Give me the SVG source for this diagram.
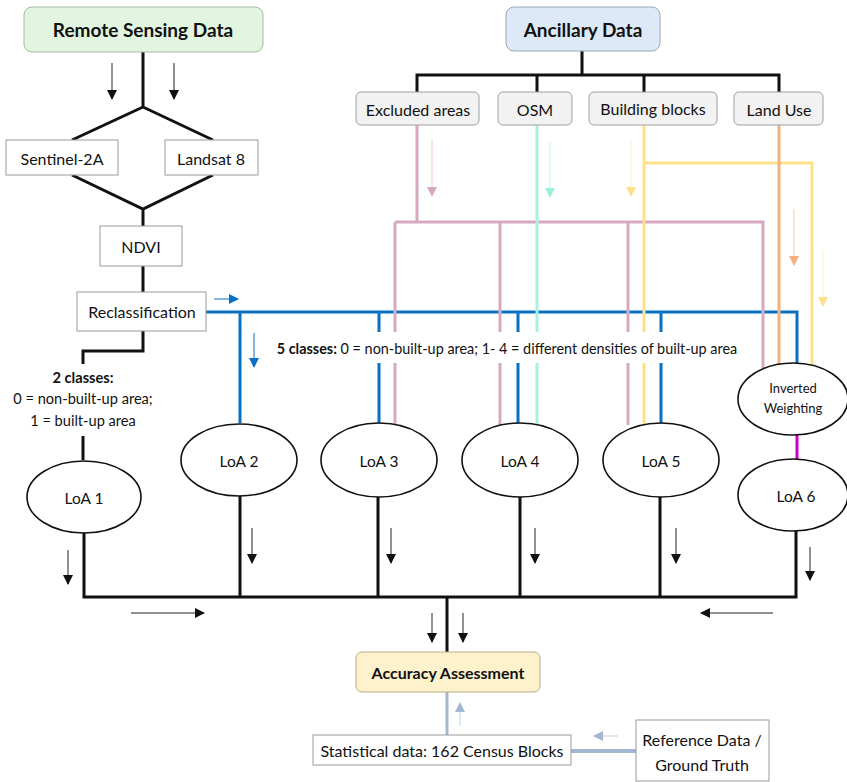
<svg xmlns="http://www.w3.org/2000/svg" width="847" height="782" viewBox="0 0 847 782">
<style>
text{font-family:Lato,"Liberation Sans",sans-serif;fill:#111;text-anchor:middle;dominant-baseline:central}
.hd{font-size:19px;font-weight:bold}
.n{font-size:16px}
.l{font-size:15.5px}
.s{font-size:14.6px}
.box{fill:#fff;stroke:#9a9a9a;stroke-width:1}
.gbox{fill:#f2f2f2;stroke:#a0a0a0;stroke-width:1}
.el{fill:#fff;stroke:#111;stroke-width:1.6}
.k{stroke:#111;stroke-width:3;fill:none}
.b{stroke:#0a70c2;stroke-width:3;fill:none}
.p{stroke:#d6a9c0;stroke-width:3;fill:none}
.c{stroke:#aaf0e2;stroke-width:3;fill:none}
.y{stroke:#ffe08a;stroke-width:3;fill:none}
.o{stroke:#f5b07f;stroke-width:3;fill:none}
.m{stroke:#c800c8;stroke-width:3;fill:none}
.lb{stroke:#a3b7d3;stroke-width:3;fill:none}
.ak{stroke:#222;stroke-width:1;marker-end:url(#hk)}
.ab{stroke:#0a70c2;stroke-width:1;marker-end:url(#hb)}
.ap{stroke:#ecc6d6;stroke-width:1;marker-end:url(#hp)}
.ac{stroke:#c3f4ea;stroke-width:1;marker-end:url(#hc)}
.ay{stroke:#fff0c0;stroke-width:1;marker-end:url(#hy)}
.ao{stroke:#f8c9a6;stroke-width:1;marker-end:url(#ho)}
.al{stroke:#c3d1e3;stroke-width:1;marker-end:url(#hl)}
</style>
<defs>
<marker id="hk" markerUnits="userSpaceOnUse" markerWidth="10" markerHeight="10" refX="9" refY="5" orient="auto"><path d="M0,0 L10,5 L0,10 Z" fill="#111"/></marker>
<marker id="hb" markerUnits="userSpaceOnUse" markerWidth="10" markerHeight="10" refX="9" refY="5" orient="auto"><path d="M0,0 L10,5 L0,10 Z" fill="#0a70c2"/></marker>
<marker id="hp" markerUnits="userSpaceOnUse" markerWidth="10" markerHeight="10" refX="9" refY="5" orient="auto"><path d="M0,0 L10,5 L0,10 Z" fill="#d6a9c0"/></marker>
<marker id="hc" markerUnits="userSpaceOnUse" markerWidth="10" markerHeight="10" refX="9" refY="5" orient="auto"><path d="M0,0 L10,5 L0,10 Z" fill="#9eeedd"/></marker>
<marker id="hy" markerUnits="userSpaceOnUse" markerWidth="10" markerHeight="10" refX="9" refY="5" orient="auto"><path d="M0,0 L10,5 L0,10 Z" fill="#ffe08a"/></marker>
<marker id="ho" markerUnits="userSpaceOnUse" markerWidth="10" markerHeight="10" refX="9" refY="5" orient="auto"><path d="M0,0 L10,5 L0,10 Z" fill="#f5b07f"/></marker>
<marker id="hl" markerUnits="userSpaceOnUse" markerWidth="10" markerHeight="10" refX="9" refY="5" orient="auto"><path d="M0,0 L10,5 L0,10 Z" fill="#a3b7d3"/></marker>
</defs>
<rect width="847" height="782" fill="#fff"/>

<g id="connectors">
  <path class="k" d="M143,51 V107 M143,107 L72,140 M143,107 L213,140 M72,175 L143,209 L213,175 M143,209 V226 M143,266 V292 M143,331 V351 H83 V364 M83,436 V460"/>
  <path class="k" d="M582,51 V75 M417,92 V75 H779 V92 M537,75 V92 M644,75 V92"/>
  <path class="b" d="M206,312 H797 V363 M240,312 V423 M379,312 V332 M379,363 V424 M518,312 V332 M518,363 V424 M661,312 V332 M661,363 V424"/>
  <path class="p" d="M417,125 V222 M395,222 H763 V368 M395,222 V332 M395,363 V425 M500,222 V332 M500,363 V425 M628,222 V332 M628,363 V425"/>
  <path class="c" d="M537,125 V332 M537,363 V425"/>
  <path class="y" d="M644,125 V332 M644,363 V425 M644,163 H812 V367"/>
  <path class="o" d="M779,125 V364"/>
  <path class="m" d="M797,435 V459"/>
  <path class="k" d="M84,533 V597 H796 V530 M240,496 V597 M378,496 V597 M520,496 V597 M660,496 V597 M447,597 V652"/>
  <path class="lb" d="M447,692 V735"/>
  <path stroke="#a3b7d3" stroke-width="4" fill="none" d="M571,751 H636"/>
  <line class="ak" x1="112" y1="63" x2="112" y2="99"/>
  <line class="ak" x1="174" y1="63" x2="174" y2="99"/>
  <line class="ab" x1="214" y1="299" x2="238" y2="299"/>
  <line class="ab" x1="254" y1="333" x2="254" y2="367"/>
  <line class="ap" x1="432" y1="140" x2="432" y2="196"/>
  <line class="ac" x1="550" y1="142" x2="550" y2="197"/>
  <line class="ay" x1="631" y1="140" x2="631" y2="196"/>
  <line class="ao" x1="794" y1="209" x2="794" y2="265"/>
  <line class="ay" x1="823" y1="250" x2="823" y2="306"/>
  <line class="ak" x1="68" y1="550" x2="68" y2="584"/>
  <line class="ak" x1="252" y1="528" x2="252" y2="563"/>
  <line class="ak" x1="391" y1="528" x2="391" y2="563"/>
  <line class="ak" x1="535" y1="528" x2="535" y2="563"/>
  <line class="ak" x1="676" y1="528" x2="676" y2="563"/>
  <line class="ak" x1="810" y1="547" x2="810" y2="580"/>
  <line class="ak" x1="131" y1="613" x2="204" y2="613"/>
  <line class="ak" x1="773" y1="613" x2="701" y2="613"/>
  <line class="ak" x1="432" y1="613" x2="432" y2="642"/>
  <line class="ak" x1="463" y1="613" x2="463" y2="642"/>
  <line class="al" x1="460" y1="726" x2="460" y2="703"/>
  <line class="al" x1="618" y1="736" x2="594" y2="736"/>
</g>

<g id="remote-sensing"><rect x="24" y="7" width="239" height="45" rx="8" fill="#e2f5e0" stroke="#a8b8a8"/><text class="hd" x="143" y="29">Remote Sensing Data</text></g>
<g id="sentinel"><rect class="box" x="6" y="140" width="112" height="35"/><text class="n" x="62" y="158">Sentinel-2A</text></g>
<g id="landsat"><rect class="box" x="165" y="140" width="93" height="35"/><text class="n" x="211" y="158">Landsat 8</text></g>
<g id="ndvi"><rect class="box" x="100" y="226" width="82" height="40"/><text class="n" x="141" y="246">NDVI</text></g>
<g id="reclassification"><rect class="box" x="77" y="292" width="129" height="39"/><text class="n" x="142" y="311">Reclassification</text></g>
<g id="two-classes"><text class="s" x="83" y="377" font-weight="bold">2 classes:</text><text class="s" x="83" y="398">0 = non-built-up area;</text><text class="s" x="83" y="420">1 = built-up area</text></g>
<g id="five-classes"><text x="507" y="348" font-size="14.4"><tspan font-weight="bold">5 classes:</tspan> 0 = non-built-up area; 1- 4 = different densities of built-up area</text></g>

<g id="ancillary"><rect x="506" y="7" width="154" height="44" rx="8" fill="#dde9f6" stroke="#9aa8b8"/><text class="hd" x="583" y="29">Ancillary Data</text></g>
<g id="excluded"><rect class="gbox" x="356" y="92" width="123" height="33" rx="5"/><text class="n" x="418" y="109">Excluded areas</text></g>
<g id="osm"><rect class="gbox" x="498" y="92" width="74" height="33" rx="5"/><text class="n" x="535" y="109">OSM</text></g>
<g id="building"><rect class="gbox" x="589" y="92" width="128" height="33" rx="5"/><text class="n" x="653" y="108">Building blocks</text></g>
<g id="landuse"><rect class="gbox" x="734" y="92" width="89" height="33" rx="5"/><text class="n" x="779" y="109">Land Use</text></g>

<g id="loa1"><ellipse class="el" cx="84" cy="497" rx="57" ry="36"/><text class="l" x="84" y="498">LoA 1</text></g>
<g id="loa2"><ellipse class="el" cx="239" cy="460" rx="58" ry="36"/><text class="l" x="239" y="461">LoA 2</text></g>
<g id="loa3"><ellipse class="el" cx="379" cy="460" rx="58" ry="37"/><text class="l" x="379" y="461">LoA 3</text></g>
<g id="loa4"><ellipse class="el" cx="520" cy="460" rx="58" ry="37"/><text class="l" x="520" y="461">LoA 4</text></g>
<g id="loa5"><ellipse class="el" cx="661" cy="460" rx="58" ry="37"/><text class="l" x="661" y="461">LoA 5</text></g>
<g id="inverted"><ellipse class="el" cx="793" cy="399" rx="55" ry="36"/><text x="793" y="388" font-size="13">Inverted</text><text x="793" y="408" font-size="13">Weighting</text></g>
<g id="loa6"><ellipse class="el" cx="793" cy="495" rx="55" ry="36"/><text class="l" x="796" y="496">LoA 6</text></g>

<g id="accuracy"><rect x="356" y="652" width="184" height="40" rx="6" fill="#fdf2cc" stroke="#b8ad8a"/><text x="448" y="672" font-size="16" font-weight="bold">Accuracy Assessment</text></g>
<g id="statistical"><rect class="box" x="313" y="735" width="258" height="30"/><text class="n" x="442" y="750">Statistical data: 162 Census Blocks</text></g>
<g id="reference"><rect class="box" x="636" y="720" width="133" height="61"/><text class="n" x="702" y="739">Reference Data /</text><text class="n" x="702" y="764">Ground Truth</text></g>
</svg>
